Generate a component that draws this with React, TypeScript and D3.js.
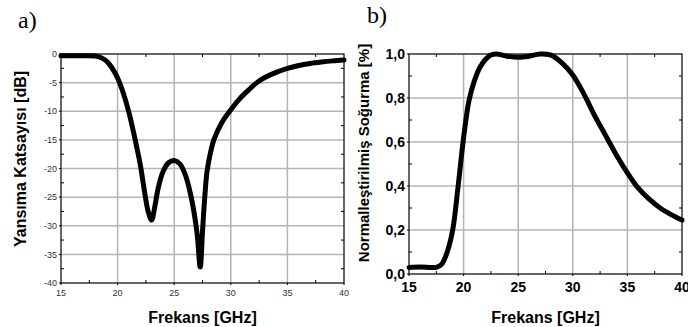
import React from 'react';
import * as d3 from 'd3';

// panel a: reflection coefficient (dB)
const freqA = [15, 16, 17, 18, 18.5, 19, 19.5, 20, 20.5, 21, 21.5, 22, 22.4, 22.7, 23, 23.3, 23.6, 24, 24.5, 25, 25.5, 26, 26.5, 27, 27.3, 27.5, 27.7, 27.9, 28.2, 28.5, 29.2, 29.9, 30.7, 31.4, 32.3, 33, 34, 35, 36, 37, 38, 39, 40];
const reflA = [-0.3, -0.3, -0.3, -0.35, -0.6, -1.2, -2.4, -4.2, -6.8, -10.2, -14.5, -19.3, -24.3, -27.5, -29.0, -26.5, -23.3, -20.6, -19.0, -18.6, -19.2, -21.2, -25.0, -31.0, -37.2, -31.0, -25.0, -20.5, -17.3, -15.0, -12.0, -10.0, -8.0, -6.6, -5.0, -4.1, -3.2, -2.5, -2.0, -1.65, -1.4, -1.2, -1.05];

// panel b: normalised absorption
const freqB = [15, 16, 17, 17.5, 18, 18.5, 19, 19.5, 20, 20.5, 21, 21.5, 22, 22.5, 23, 24, 25, 26, 27, 28, 29, 30, 31, 32, 33, 34, 35, 36, 37, 38, 39, 40];
const absB = [0.03, 0.032, 0.03, 0.03, 0.045, 0.1, 0.2, 0.4, 0.62, 0.79, 0.88, 0.94, 0.975, 0.995, 1.0, 0.99, 0.985, 0.99, 1.0, 0.995, 0.96, 0.905, 0.82, 0.72, 0.63, 0.54, 0.46, 0.39, 0.34, 0.3, 0.27, 0.245];

const xTicks = [15, 20, 25, 30, 35, 40];
const yTicksA = [0, -5, -10, -15, -20, -25, -30, -35, -40];
const yTicksB = [0, 0.2, 0.4, 0.6, 0.8, 1.0];

const FONT = 'Arial, "Liberation Sans", sans-serif';
const GRID = '#b4b4b4';

function Panel({ x, y, fx, vals, xMinor, yMinor, yTicks, yFmt, tickFont, tickWeight, tickColor, yTitle, yTitleX, yTitleY, letter, letterX, letterY }: any) {
  const [x0, x1] = x.range();
  const [y0, y1] = y.range();
  const line = d3.line<number>().x((_, i) => x(fx[i])).y((_, i) => y(vals[i])).curve(d3.curveCatmullRom.alpha(0.5));
  const top = Math.min(y0, y1), bot = Math.max(y0, y1);
  return (
    <g>
      {xTicks.slice(1, -1).map(t => <line key={'gx' + t} x1={x(t)} x2={x(t)} y1={top} y2={bot} stroke={GRID} strokeWidth={1.5} />)}
      {yTicks.slice(1, -1).map((t: number) => <line key={'gy' + t} x1={x0} x2={x1} y1={y(t)} y2={y(t)} stroke={GRID} strokeWidth={1.5} />)}
      {xMinor.map((t: number) => (
        <g key={'mx' + t}>
          <line x1={x(t)} x2={x(t)} y1={bot} y2={bot - 3} stroke="#000" />
          <line x1={x(t)} x2={x(t)} y1={top} y2={top + 3} stroke="#000" />
        </g>
      ))}
      {yMinor.map((t: number) => (
        <g key={'my' + t}>
          <line x1={x0} x2={x0 + 3} y1={y(t)} y2={y(t)} stroke="#000" />
          <line x1={x1} x2={x1 - 3} y1={y(t)} y2={y(t)} stroke="#000" />
        </g>
      ))}
      {xTicks.map(t => <line key={'tx' + t} x1={x(t)} x2={x(t)} y1={bot} y2={bot + 2} stroke="#000" />)}
      {yTicks.map((t: number) => <line key={'ty' + t} x1={x0 - 2} x2={x0} y1={y(t)} y2={y(t)} stroke="#000" />)}
      <rect x={x0} y={top} width={x1 - x0} height={bot - top} fill="none" stroke="#000" strokeWidth={1.2} />
      <path d={line(vals) || ''} fill="none" stroke="#000" strokeWidth={5} strokeLinejoin="round" strokeLinecap="round" />
      {xTicks.map(t => (
        <text key={'lx' + t} x={x(t)} y={bot + tickFont + 4} textAnchor="middle" fontFamily={FONT} fontSize={tickFont} fontWeight={tickWeight} fill={tickColor}>{t}</text>
      ))}
      {yTicks.map((t: number) => (
        <text key={'ly' + t} x={x0 - 4} y={y(t)} dy="0.35em" textAnchor="end" fontFamily={FONT} fontSize={tickFont} fontWeight={tickWeight} fill={tickColor}>{yFmt(t)}</text>
      ))}
      <text x={(x0 + x1) / 2} y={323} textAnchor="middle" fontFamily={FONT} fontSize={16} fontWeight="bold">Frekans [GHz]</text>
      <text transform={`translate(${yTitleX},${yTitleY}) rotate(-90)`} textAnchor="middle" fontFamily={FONT} fontSize={yTitle.size} fontWeight="bold">{yTitle.text}</text>
      <text x={letterX} y={letterY} fontFamily='"Liberation Serif", "Times New Roman", serif' fontSize={24}>{letter}</text>
    </g>
  );
}

export default function App() {
  const xa = d3.scaleLinear().domain([15, 40]).range([61, 344]);
  const ya = d3.scaleLinear().domain([-40, 0]).range([283, 54]);
  const xb = d3.scaleLinear().domain([15, 40]).range([409, 682]);
  const yb = d3.scaleLinear().domain([0, 1]).range([274, 54]);
  const xMinor = d3.range(17.5, 40, 5);
  const yMinorA = d3.range(-37.5, 0, 5);
  const yMinorB = d3.range(0.1, 1, 0.2);
  return (
    <div style={{ position: 'fixed', left: 0, top: 0 }}>
      <svg width={688} height={327} style={{ display: 'block', background: '#fff' }}>
        <Panel x={xa} y={ya} fx={freqA} vals={reflA} xMinor={xMinor} yMinor={yMinorA} yTicks={yTicksA}
          yFmt={(t: number) => String(t)} tickFont={9} tickWeight="normal" tickColor="#333"
          yTitle={{ text: 'Yansıma Katsayısı [dB]', size: 16 }} yTitleX={26} yTitleY={159}
          letter="a)" letterX={18} letterY={28} />
        <Panel x={xb} y={yb} fx={freqB} vals={absB} xMinor={xMinor} yMinor={yMinorB} yTicks={yTicksB}
          yFmt={(t: number) => d3.format('.1f')(t).replace('.', ',')} tickFont={14} tickWeight="bold" tickColor="#000"
          yTitle={{ text: 'Normalleştirilmiş Soğurma [%]', size: 15 }} yTitleX={369} yTitleY={153}
          letter="b)" letterX={367} letterY={23} />
      </svg>
    </div>
  );
}
